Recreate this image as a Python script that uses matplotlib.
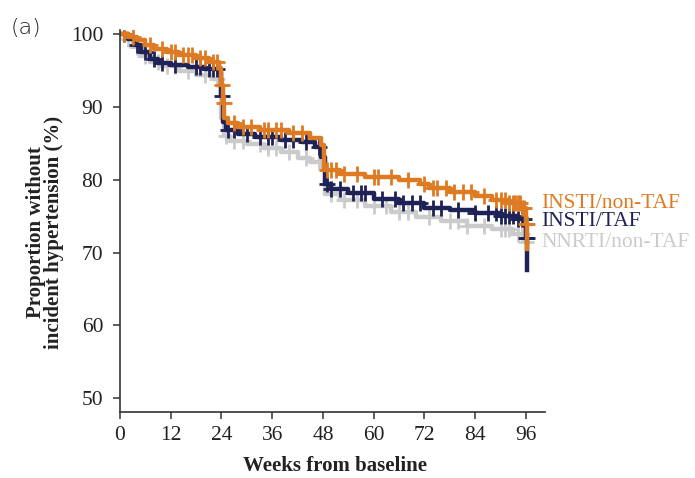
import numpy as np
import matplotlib
matplotlib.use('Agg')
import matplotlib.pyplot as plt

# step curves: event times (weeks) and survival (%)
orange_t = [0, 2, 4, 6, 8, 11, 14, 18, 21, 23.5, 24, 24.3, 24.6, 25.5, 28, 33, 40, 45, 47.5, 48.3,
            52, 58, 66, 71, 73, 78, 84, 88, 92, 95, 96, 96.3]
orange_s = [100, 99.6, 99.2, 98.6, 98.0, 97.6, 97.2, 96.8, 96.2, 95.4, 93.0, 90.5, 88.5, 87.8, 87.3,
            86.8, 86.4, 85.8, 84.8, 81.3, 80.8, 80.4, 80.0, 79.4, 78.9, 78.4, 77.8, 77.3, 76.8, 76.2,
            74.0, 70.5]
orange_c = [1, 3, 7, 10, 12, 13, 15, 16, 17, 19, 20, 22, 23, 24.2, 24.5, 27, 29, 31, 34, 35, 37, 38,
            41, 43, 49, 50, 51, 53, 56, 60, 61, 64, 68, 72, 74, 75, 77, 79, 81, 83, 86, 89, 90, 91,
            92, 93, 93.5, 94, 94.5, 95, 95.5, 96, 96.2]

navy_t = [0, 2, 3.5, 5, 7, 9, 12, 16, 20, 23.5, 24, 24.4, 25, 28, 32, 38, 43, 46, 47.5, 48.5, 50,
          54, 60, 66, 72, 78, 84, 90, 94, 96, 96.3]
navy_s = [100, 99.3, 98.5, 97.6, 96.6, 96.0, 95.8, 95.5, 95.2, 94.8, 91.5, 88.0, 86.8, 86.3, 85.9,
          85.5, 85.2, 84.5, 83.1, 79.5, 78.8, 78.2, 77.4, 76.8, 76.2, 75.8, 75.5, 75.0, 74.6, 72.0,
          67.6]
navy_c = [1, 4, 6, 8, 10, 13, 18, 19, 21, 22, 23, 24.2, 25.5, 27, 30, 33, 35, 36, 39, 41, 44, 47,
          49, 50, 52, 55, 57, 58, 62, 65, 67, 69, 71, 74, 76, 80, 84, 87, 89, 90, 91, 92, 93, 94, 95,
          95.5, 96, 96.2]

gray_t = [0, 1.5, 3, 5, 7, 10, 14, 18, 22, 24, 24.5, 26, 30, 34, 38, 42, 45, 47.5, 48.5, 52, 58,
          64, 70, 76, 82, 88, 93, 96]
gray_s = [100, 99.3, 98.2, 97.0, 96.2, 95.7, 95.0, 94.4, 93.8, 88.5, 86.0, 85.4, 84.9, 84.4, 83.8,
          83.0, 82.4, 81.6, 78.0, 77.2, 76.4, 75.6, 74.9, 74.3, 73.7, 73.2, 72.6, 71.5]
gray_c = [2, 4, 6, 9, 11, 13, 16, 20, 23, 25, 27, 29, 33, 35, 37, 40, 44, 47, 50, 53, 56, 60, 63,
          66, 68, 73, 78, 80, 82, 86, 90, 91, 92, 94, 95, 96]

groups = ['NNRTI/non-TAF', 'INSTI/TAF', 'INSTI/non-TAF']
colors = ['#CBCBCB', '#1E2257', '#DE7A22']
data = [(gray_t, gray_s, gray_c), (navy_t, navy_s, navy_c), (orange_t, orange_s, orange_c)]

fig = plt.figure(figsize=(6.95, 4.78), dpi=100)
ax = fig.add_axes([120 / 695, 66 / 478, 425 / 695, 382 / 478])

for (t, s, c), col in zip(data, colors):
    t = np.array(t)
    s = np.array(s)
    ax.step(t, s, where='post', color=col, lw=3.2)
    idx = np.searchsorted(t, c, side='right') - 1
    ax.plot(c, s[idx], ls='none', marker='+', ms=11, mew=2, color=col)

ax.set_xlim(0, 100.5)
ax.set_ylim(48.1, 100.6)
ax.set_xticks(range(0, 97, 12))
ax.set_yticks(range(50, 101, 10))
for sp in ['top', 'right']:
    ax.spines[sp].set_visible(False)
for sp in ['left', 'bottom']:
    ax.spines[sp].set_color('#333333')
    ax.spines[sp].set_linewidth(1.2)
ax.tick_params(direction='out', length=5, width=1.1, color='#333333', labelsize=15.5,
               labelcolor='#222222')
ax.tick_params(axis='y', pad=7)
ax.tick_params(axis='x', pad=5)
for lab in ax.get_xticklabels() + ax.get_yticklabels():
    lab.set_family('Liberation Serif')

fig.text(335 / 695, 1 - 466 / 478, 'Weeks from baseline', ha='center', va='center',
         family='Liberation Serif', weight='bold', fontsize=15, color='#222222')
fig.text(45 / 695, 1 - 232 / 478, 'Proportion without\nincident hypertension (%)', ha='center',
         va='center', rotation=90, multialignment='center', family='Liberation Serif',
         weight='bold', fontsize=15, color='#222222', linespacing=0.85)
fig.text(11 / 695, 1 - 28 / 478, '(a)', ha='left', va='center', family='DejaVu Sans',
         fontsize=16, weight='light', color='#222222')

label_y = [242, 222, 203]
for g, col, y in zip(groups, colors, label_y):
    fig.text(541 / 695, 1 - y / 478, g, ha='left', va='center', family='Liberation Serif',
             fontsize=15.5, color=col)

fig.savefig('out.png', dpi=100)
